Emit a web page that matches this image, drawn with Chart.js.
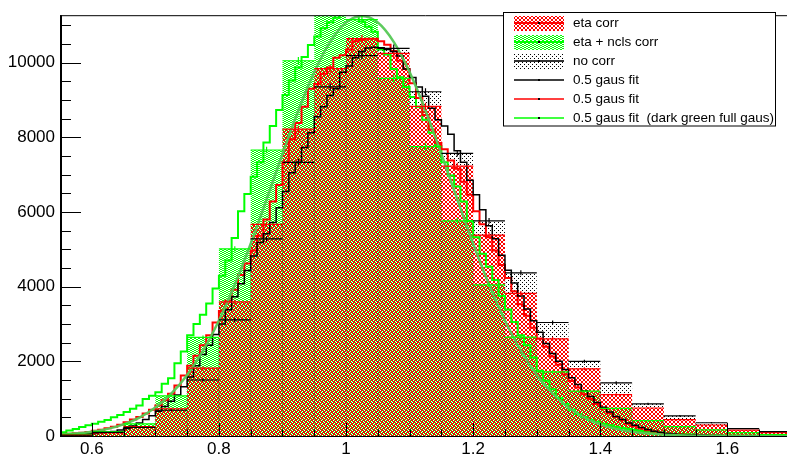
<!DOCTYPE html>
<html>
<head>
<meta charset="utf-8">
<script src="https://cdn.jsdelivr.net/npm/chart.js@4.4.0/dist/chart.umd.min.js"></script>
<style>
  html, body { margin: 0; padding: 0; background: #fff; overflow: hidden; }
  #wrap { width: 791px; height: 458px; }
</style>
</head>
<body>
<div id="wrap"><canvas id="hist" width="791" height="458"></canvas></div>
<script>
// ---- coarse histograms (bin width 0.05, left edges) ----
const COARSE_LEFT = [0.55, 0.60, 0.65, 0.70, 0.75, 0.80, 0.85, 0.90, 0.95, 1.00, 1.05, 1.10,
                     1.15, 1.20, 1.25, 1.30, 1.35, 1.40, 1.45, 1.50, 1.55, 1.60, 1.65];
const COARSE_W = 0.05;

const noCorr = [20, 95, 230, 690, 1500, 3110, 5280, 7330, 9350, 10190, 10380, 9220,
                7570, 5760, 4370, 3040, 2000, 1425, 860, 540, 355, 195, 118];
const noCorrErr = [5, 10, 15, 26, 39, 56, 73, 86, 97, 101, 102, 96, 87, 76, 66, 55, 45, 38, 29, 23, 19, 14, 11];

const etaCorr = [25, 85, 250, 730, 1820, 3590, 5670, 8220, 9840, 10640, 10250, 8830,
                 7230, 5380, 3820, 2600, 1800, 1110, 750, 440, 295, 157, 92];
const etaCorrErr = [5, 9, 16, 27, 43, 60, 75, 91, 99, 103, 101, 94, 85, 73, 62, 51, 42, 33, 27, 21, 17, 13, 10];

const etaNclsCorr = [45, 120, 325, 1075, 2640, 5010, 7660, 10050, 11500, 11150, 9580, 7750,
                     5760, 4050, 2650, 1720, 1200, 740, 410, 250, 165, 90, 40];
const etaNclsErr = [7, 11, 18, 33, 51, 71, 88, 100, 107, 106, 98, 88, 76, 64, 51, 41, 35, 27, 20, 16, 13, 9, 6];

// ---- fine histograms (bin width 0.01 starting at 0.55) ----
const FINE_START = 0.55;
const FINE_W = 0.01;

const noCorrFine = [
  30, 35, 40, 50, 60, 70, 85, 100, 120, 160,
  200, 270, 350, 440, 540, 660, 790, 930, 1100, 1320,
  1580, 1880, 2180, 2430, 2720, 3000, 3380, 3730, 4080, 4430,
  4820, 5180, 5420, 5720, 6110, 6550, 7050, 7330, 7730, 8120,
  8550, 8820, 9120, 9300, 9740, 9910, 10130, 10300, 10390, 10410,
  10400, 10350, 10300, 10180, 9830, 9600, 9350, 9100, 8780, 8470,
  8300, 8080, 7640, 7330, 6850, 6460, 6060, 5630, 5280, 4840,
  4440, 4100, 3750, 3400, 3090, 2780, 2480, 2210, 2000, 1780,
  1560, 1380, 1210, 1060, 900, 770, 640, 525, 440, 350,
  290, 230, 175, 130, 96, 70, 55, 42, 34, 28,
  22, 18, 15, 12, 10, 8, 6, 5, 4, 4,
  3, 3, 2, 2, 2
];

const etaCorrFine = [
  50, 60, 75, 90, 110, 140, 170, 210, 250, 300,
  370, 440, 510, 600, 700, 820, 960, 1130, 1350, 1620,
  1880, 2150, 2430, 2700, 3040, 3350, 3620, 3920, 4310, 4620,
  4970, 5360, 5800, 6280, 6720, 7330, 7950, 8380, 8820, 9300,
  9430, 9700, 9870, 10130, 10200, 10350, 10570, 10610, 10640, 10640,
  10570, 10480, 10310, 10050, 9830, 9450, 9050, 8600, 8210, 7850,
  7680, 7380, 7160, 6810, 6460, 6020, 5670, 5320, 4970, 4580,
  4230, 3880, 3530, 3220, 2900, 2610, 2390, 2130, 1910, 1650,
  1470, 1300, 1120, 990, 860, 730, 610, 510, 420, 330,
  260, 200, 157, 122, 88, 65, 50, 40, 32, 26,
  20, 16, 13, 10, 8, 6, 5, 4, 4, 3,
  3, 2, 2, 2, 1
];

const etaNclsFine = [
  100, 150, 190, 240, 290, 330, 380, 430, 500, 560,
  640, 730, 820, 990, 1080, 1170, 1400, 1550, 1950, 2260,
  2700, 3000, 3250, 3550, 3950, 4290, 4700, 5300, 6020, 6480,
  6940, 7330, 7860, 8300, 8730, 9130, 9520, 9870, 10150, 10470,
  10700, 10920, 11080, 11200, 11300, 11350, 11300, 11100, 10960, 10830,
  10350, 10220, 9830, 9610, 9350, 9080, 8820, 8470, 8120, 7770,
  7330, 6980, 6680, 6280, 5760, 5320, 4880, 4530, 4180, 3750,
  3390, 3050, 2700, 2430, 2100, 1750, 1480, 1250, 1020, 860,
  700, 590, 500, 430, 380, 330, 290, 250, 215, 185,
  160, 135, 115, 100, 85, 72, 62, 52, 45, 38,
  32, 27, 23, 19, 16, 13, 11, 9, 8, 7,
  6, 5, 4, 4, 3
];

// ---- full gaussian (sampled every 0.025 from 0.55) ----
const GAUS_START = 0.55;
const GAUS_STEP = 0.025;
const fullGaus = [
  36, 64, 112, 190, 311, 494, 761, 1133, 1635, 2285,
  3094, 4055, 5150, 6337, 7552, 8718, 9746, 10555, 11072, 11250,
  11072, 10555, 9746, 8718, 7552, 6337, 5150, 4055, 3094, 2285,
  1635, 1133, 761, 494, 311, 190, 112, 64, 36, 19,
  10, 5, 2, 1, 0, 0, 0
];

// ---- axes ----
const X_MIN = 0.55, X_MAX = 1.7;
const Y_MIN = 0, Y_MAX = 11270;
const X_LABELS = [0.6, 0.8, 1.0, 1.2, 1.4, 1.6];
const Y_LABELS = [0, 2000, 4000, 6000, 8000, 10000];
const X_MINOR_STEP = 0.05;
const Y_MINOR_STEP = 500;

const LEGEND = [
  { label: 'eta corr', kind: 'fill', fill: 'red', line: '#ff0000' },
  { label: 'eta + ncls corr', kind: 'fill', fill: 'green', line: '#00ff00' },
  { label: 'no corr', kind: 'fill', fill: 'black', line: '#333333' },
  { label: '0.5 gaus fit', kind: 'line', line: '#000000' },
  { label: '0.5 gaus fit', kind: 'line', line: '#ff0000' },
  { label: '0.5 gaus fit  (dark green full gaus)', kind: 'line', line: '#00ff00' }
];

const FONT = '"Liberation Sans", Arial, Helvetica, sans-serif';

// 4x4 pixel tiles; where red sits on green, half the green still shows
function dotPattern(color, rows) {
  const c = document.createElement('canvas');
  c.width = rows[0].length; c.height = rows.length;
  const g = c.getContext('2d');
  g.fillStyle = color;
  rows.forEach((row, py) => [...row].forEach((ch, px) => { if (ch === '#') g.fillRect(px, py, 1, 1); }));
  return g.createPattern(c, 'repeat');
}
const patterns = {
  red:   dotPattern('#ff0000', ['#..#', '.##.', '.##.', '#..#']),
  green: dotPattern('#00ff00', ['..##', '##..', '..##', '##..']),
  black: dotPattern('#000000', ['#...', '....', '..#.', '....'])
};

// step outline: left edges + closing right edge
function histPoints(lefts, width, vals) {
  const pts = lefts.map((x, i) => ({ x, y: vals[i] }));
  pts.push({ x: lefts[lefts.length - 1] + width, y: vals[vals.length - 1] });
  return pts;
}

// x-error bar across the bin plus the vertical y-error at the centre
function errorPoints(lefts, width, vals, errs) {
  const pts = [];
  lefts.forEach((x, i) => {
    const xc = x + width / 2;
    pts.push({ x, y: vals[i] }, { x: x + width, y: vals[i] }, { x: x + width, y: null });
    pts.push({ x: xc, y: vals[i] - errs[i] }, { x: xc, y: vals[i] + errs[i] }, { x: xc, y: null });
  });
  return pts;
}

// bar edge lines of the "no corr" histogram
function edgePoints(lefts, vals) {
  const pts = [];
  lefts.forEach((x, i) => {
    pts.push({ x, y: 0 }, { x, y: vals[i] }, { x, y: null });
  });
  return pts;
}

const fineLeft = noCorrFine.map((_, i) => FINE_START + i * FINE_W);
const gausX = fullGaus.map((_, i) => GAUS_START + i * GAUS_STEP);

function filled(data, pattern, order) {
  return {
    data, order, stepped: true, fill: 'origin',
    backgroundColor: pattern, borderWidth: 0, borderColor: 'rgba(0,0,0,0)',
    pointRadius: 0, clip: 0
  };
}
function stepLine(data, color, width, order) {
  return {
    data, order, stepped: true, fill: false,
    borderColor: color, borderWidth: width, pointRadius: 0, clip: 0
  };
}
function errLine(data, color, order) {
  return {
    data, order, fill: false, spanGaps: false,
    borderColor: color, borderWidth: 1.2, pointRadius: 0, clip: 0
  };
}

// lower order is painted later (on top)
const datasets = [
  errLine(errorPoints(COARSE_LEFT, COARSE_W, noCorr, noCorrErr), '#000000', 1),
  errLine(errorPoints(COARSE_LEFT, COARSE_W, etaCorr, etaCorrErr), '#ff0000', 2),
  errLine(errorPoints(COARSE_LEFT, COARSE_W, etaNclsCorr, etaNclsErr), '#00ff00', 3),
  {
    data: gausX.map((x, i) => ({ x, y: fullGaus[i] })), order: 4,
    borderColor: 'rgba(85, 200, 85, 0.95)', borderWidth: 2.5, fill: false,
    pointRadius: 0, cubicInterpolationMode: 'monotone', clip: 0
  },
  stepLine(histPoints(fineLeft, FINE_W, noCorrFine), '#000000', 1.5, 5),
  stepLine(histPoints(fineLeft, FINE_W, etaCorrFine), '#ff0000', 2, 6),
  stepLine(histPoints(fineLeft, FINE_W, etaNclsFine), '#00ff00', 2, 7),
  {
    data: edgePoints(COARSE_LEFT, noCorr), order: 7.5, fill: false, spanGaps: false,
    borderColor: 'rgba(40, 30, 20, 0.5)', borderWidth: 1, borderDash: [1, 1],
    pointRadius: 0, clip: 0
  },
  filled(histPoints(COARSE_LEFT, COARSE_W, etaCorr), patterns.red, 8),
  filled(histPoints(COARSE_LEFT, COARSE_W, etaNclsCorr), patterns.green, 9),
  filled(histPoints(COARSE_LEFT, COARSE_W, noCorr), patterns.black, 10)
];

// frame, inward ticks and the boxed legend, ROOT style
const rootFrame = {
  id: 'rootFrame',
  afterDraw(chart) {
    const { ctx, chartArea: a, scales: { x, y } } = chart;
    ctx.save();
    ctx.strokeStyle = '#000';
    ctx.lineWidth = 1;
    ctx.beginPath();
    ctx.moveTo(a.left, a.bottom + 0.5);
    ctx.lineTo(a.right, a.bottom + 0.5);
    ctx.moveTo(a.left, a.top + 0.5);
    ctx.lineTo(a.right, a.top + 0.5);
    ctx.stroke();
    ctx.lineWidth = 2;
    ctx.beginPath();
    ctx.moveTo(a.left + 1, a.bottom + 1);
    ctx.lineTo(a.left + 1, a.top);
    ctx.stroke();

    ctx.lineWidth = 1;
    ctx.beginPath();
    for (let v = Y_MIN; v <= Y_MAX; v += Y_MINOR_STEP) {
      const py = Math.round(y.getPixelForValue(v)) + 0.5;
      const len = Y_LABELS.includes(v) ? 21 : 11;
      ctx.moveTo(a.left, py);
      ctx.lineTo(a.left + len, py);
    }
    for (let k = 0; X_MIN + k * X_MINOR_STEP <= X_MAX + 1e-9; k++) {
      const v = X_MIN + k * X_MINOR_STEP;
      const px = Math.round(x.getPixelForValue(v)) + 0.5;
      const major = X_LABELS.some(m => Math.abs(m - v) < 1e-6);
      ctx.moveTo(px, a.bottom);
      ctx.lineTo(px, a.bottom - (major ? 13 : 6.5));
    }
    ctx.stroke();

    // legend box
    const bx = 503.5, by = 12.5, bw = 272, bh = 113.5, rowH = 19;
    ctx.fillStyle = '#fff';
    ctx.fillRect(bx, by, bw, bh);
    ctx.strokeRect(bx, by, bw, bh);
    ctx.font = '13.5px ' + FONT;
    ctx.textBaseline = 'middle';
    ctx.textAlign = 'left';
    LEGEND.forEach((e, i) => {
      const cy = Math.round(by + 10 + i * rowH);
      if (e.kind === 'fill') {
        ctx.fillStyle = patterns[e.fill];
        ctx.fillRect(514, cy - 7, 50, 15);
      }
      ctx.strokeStyle = e.line;
      ctx.lineWidth = e.kind === 'fill' ? 2 : 1.5;
      ctx.beginPath();
      ctx.moveTo(514, cy);
      ctx.lineTo(564, cy);
      ctx.stroke();
      ctx.fillStyle = '#000';
      ctx.fillRect(538, cy - 1, 2, 2);
      ctx.fillText(e.label, 573, cy + 0.5);
    });
    ctx.restore();
  }
};

new Chart(document.getElementById('hist'), {
  type: 'line',
  data: { datasets },
  options: {
    responsive: false,
    animation: false,
    events: [],
    layout: { padding: { top: 7, left: 0, right: 0, bottom: 0 } },
    plugins: { legend: { display: false }, tooltip: { enabled: false } },
    scales: {
      x: {
        type: 'linear', min: X_MIN, max: X_MAX,
        grid: { display: false, drawTicks: false },
        border: { display: false },
        afterBuildTicks: s => { s.ticks = X_LABELS.map(v => ({ value: v })); },
        ticks: {
          padding: 3, color: '#000', font: { family: FONT, size: 17 },
          maxRotation: 0, autoSkip: false,
          callback: v => String(Math.round(v * 10) / 10)
        },
        afterFit: s => { s.height = 22; }
      },
      y: {
        type: 'linear', min: Y_MIN, max: Y_MAX,
        grid: { display: false, drawTicks: false },
        border: { display: false },
        afterBuildTicks: s => { s.ticks = Y_LABELS.map(v => ({ value: v })); },
        ticks: {
          padding: 5, color: '#000', font: { family: FONT, size: 17 },
          autoSkip: false,
          callback: v => String(v)
        },
        afterFit: s => { s.width = 60; }
      }
    }
  },
  plugins: [rootFrame]
});
</script>
</body>
</html>
